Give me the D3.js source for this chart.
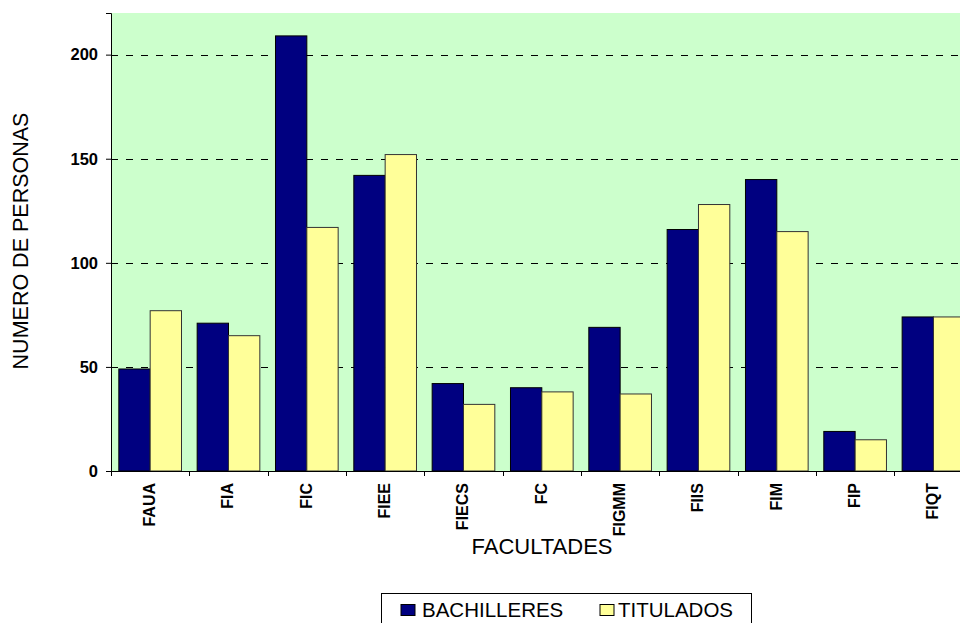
<!DOCTYPE html>
<html>
<head>
<meta charset="utf-8">
<script src="https://cdn.jsdelivr.net/npm/d3@7"></script>
<style>
  html, body { margin: 0; padding: 0; background: #fff; }
  svg { display: block; font-family: Arial, "Liberation Sans", sans-serif; }
</style>
</head>
<body>
<svg id="chart" width="960" height="623"></svg>
<script>
// Faculties and people counts per series
const categories = ["FAUA", "FIA", "FIC", "FIEE", "FIECS", "FC", "FIGMM", "FIIS", "FIM", "FIP", "FIQT"];
const seriesNames = ["BACHILLERES", "TITULADOS"];
const bachilleres = [49, 71, 209, 142, 42, 40, 69, 116, 140, 19, 74];
const titulados   = [77, 65, 117, 152, 32, 38, 37, 128, 115, 15, 74];
const yTicks = [0, 50, 100, 150, 200];

const colors = { BACHILLERES: "#000080", TITULADOS: "#FFFF99" };

const svg = d3.select("#chart");

const plotLeft = 111, plotTop = 13, plotBottom = 471;
const bandW = 78.33;
const plotRight = plotLeft + bandW * categories.length;

const x = d3.scaleBand().domain(categories).range([plotLeft, plotRight]).paddingInner(0).paddingOuter(0);
const gap = x.bandwidth() * 0.1;
const xs = d3.scaleBand().domain(seriesNames).range([gap, x.bandwidth() - gap]).padding(0);
const y = d3.scaleLinear().domain([0, 220]).range([plotBottom, plotTop]);

const rows = categories.map((c, i) => ({ cat: c, BACHILLERES: bachilleres[i], TITULADOS: titulados[i] }));

// plot background
svg.append("rect")
  .attr("x", plotLeft).attr("y", plotTop)
  .attr("width", plotRight - plotLeft).attr("height", plotBottom - plotTop)
  .attr("fill", "#CCFFCC");

// dashed gridlines
svg.append("g")
  .selectAll("line")
  .data(yTicks.filter(d => d > 0))
  .join("line")
  .attr("x1", plotLeft).attr("x2", plotRight)
  .attr("y1", d => Math.round(y(d)) + 0.5).attr("y2", d => Math.round(y(d)) + 0.5)
  .attr("stroke", "#000")
  .attr("stroke-width", 1)
  .attr("stroke-dasharray", "7,8");

// bars
const groups = svg.append("g")
  .selectAll("g")
  .data(rows)
  .join("g")
  .attr("transform", d => `translate(${x(d.cat)},0)`);

groups.selectAll("rect")
  .data(d => seriesNames.map(s => ({ s, v: d[s] })))
  .join("rect")
  .attr("x", d => xs(d.s))
  .attr("y", d => y(d.v))
  .attr("width", xs.bandwidth())
  .attr("height", d => plotBottom - y(d.v))
  .attr("fill", d => colors[d.s])
  .attr("stroke", d => d.s === "BACHILLERES" ? "#000" : "#333")
  .attr("stroke-width", 1);

// y axis
const yAxis = svg.append("g")
  .attr("transform", `translate(${plotLeft},0)`)
  .call(d3.axisLeft(y).tickValues(yTicks).tickSize(5).tickPadding(8).tickFormat(d3.format("d")));
yAxis.select(".domain").attr("stroke", "#000");
yAxis.selectAll(".tick line").attr("stroke", "#000");
yAxis.selectAll("text")
  .attr("font-family", "Arial, 'Liberation Sans', sans-serif")
  .attr("font-size", 16.5).attr("font-weight", "bold").attr("fill", "#000");

// x axis with category labels
const xAxis = svg.append("g")
  .attr("transform", `translate(0,${plotBottom})`)
  .call(d3.axisBottom(x).tickSize(0).tickPadding(0));
xAxis.select(".domain").attr("stroke", "#000").attr("d", `M${plotLeft},0.5H${plotRight}`);
xAxis.selectAll(".tick text")
  .attr("font-family", "Arial, 'Liberation Sans', sans-serif")
  .attr("font-size", 16).attr("font-weight", "bold").attr("fill", "#000")
  .attr("text-anchor", "end")
  .attr("transform", "translate(-1,12) rotate(-90)")
  .attr("x", 0).attr("y", 0).attr("dy", "0.37em");

// tick marks at category boundaries
svg.append("g")
  .selectAll("line")
  .data(categories.map(c => x(c)).concat([plotRight]))
  .join("line")
  .attr("x1", d => Math.round(d) + 0.5).attr("x2", d => Math.round(d) + 0.5)
  .attr("y1", plotBottom).attr("y2", plotBottom + 5)
  .attr("stroke", "#000");

// axis titles
svg.append("text")
  .attr("transform", "translate(28,241) rotate(-90)")
  .attr("text-anchor", "middle")
  .attr("font-size", 21.5)
  .attr("fill", "#000")
  .text("NUMERO DE PERSONAS");

svg.append("text")
  .attr("x", 542).attr("y", 554)
  .attr("text-anchor", "middle")
  .attr("font-size", 22)
  .attr("fill", "#000")
  .text("FACULTADES");

// legend
const legend = svg.append("g");
legend.append("rect")
  .attr("x", 381.5).attr("y", 593.5)
  .attr("width", 370).attr("height", 40)
  .attr("fill", "#fff").attr("stroke", "#000");

const legendItems = [
  { s: "BACHILLERES", mx: 401, tx: 422 },
  { s: "TITULADOS", mx: 600, tx: 618 }
];
const li = legend.selectAll("g.item").data(legendItems).join("g").attr("class", "item");
li.append("rect")
  .attr("x", d => d.mx).attr("y", 604.5)
  .attr("width", 14).attr("height", 11)
  .attr("fill", d => colors[d.s])
  .attr("stroke", "#000");
li.append("text")
  .attr("x", d => d.tx).attr("y", 617)
  .attr("font-size", 20.5)
  .attr("fill", "#000")
  .text(d => d.s);
</script>
</body>
</html>
